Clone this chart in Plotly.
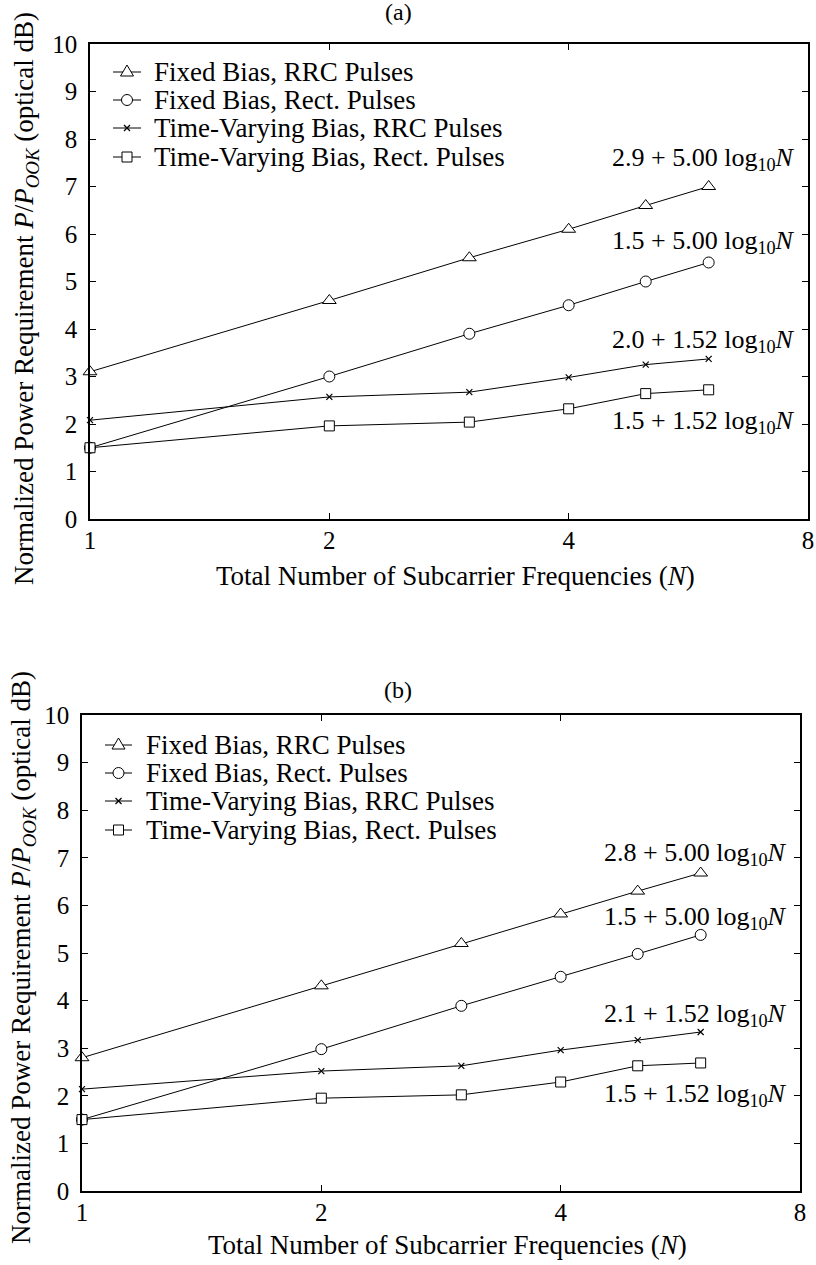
import math
import plotly.graph_objects as go

# ---------------- data ----------------
N = [1, 2, 3, 4, 5, 6]

series_names = [
    "Fixed Bias, RRC Pulses",
    "Fixed Bias, Rect. Pulses",
    "Time-Varying Bias, RRC Pulses",
    "Time-Varying Bias, Rect. Pulses",
]

a_fixed_rrc = [3.1, 4.6, 5.5, 6.1, 6.6, 7.0]
a_fixed_rect = [1.5, 3.0, 3.9, 4.5, 5.0, 5.4]
a_tv_rrc = [2.08, 2.57, 2.67, 2.98, 3.25, 3.37]
a_tv_rect = [1.5, 1.96, 2.04, 2.32, 2.64, 2.72]

b_fixed_rrc = [2.8, 4.31, 5.2, 5.82, 6.3, 6.68]
b_fixed_rect = [1.5, 2.98, 3.89, 4.5, 4.98, 5.38]
b_tv_rrc = [2.14, 2.52, 2.63, 2.96, 3.17, 3.34]
b_tv_rect = [1.5, 1.95, 2.02, 2.29, 2.63, 2.69]

a_fit_labels = ["2.9 + 5.00", "1.5 + 5.00", "2.0 + 1.52", "1.5 + 1.52"]
b_fit_labels = ["2.8 + 5.00", "1.5 + 5.00", "2.1 + 1.52", "1.5 + 1.52"]

x_ticks = [1, 2, 4, 8]
y_ticks = list(range(0, 11))

FONT = "Liberation Serif, Times New Roman, serif"
W, H = 816, 1265


def px(x):
    return x / W


def py(y):
    return 1 - y / H


# ---------------- figure ----------------
fig = go.Figure()

marker_styles = [
    dict(symbol="triangle-up", size=12, color="white", line=dict(color="black", width=1)),
    dict(symbol="circle", size=11, color="white", line=dict(color="black", width=1)),
    dict(symbol="x-thin", size=6, color="black", line=dict(color="black", width=1.2)),
    dict(symbol="square", size=10, color="white", line=dict(color="black", width=1)),
]

panels = [
    ("x", "y", [a_fixed_rrc, a_fixed_rect, a_tv_rrc, a_tv_rect]),
    ("x2", "y2", [b_fixed_rrc, b_fixed_rect, b_tv_rrc, b_tv_rect]),
]

for xa, ya, data in panels:
    for name, vals, ms in zip(series_names, data, marker_styles):
        fig.add_trace(go.Scatter(
            x=N, y=vals, name=name, mode="lines+markers",
            line=dict(color="black", width=1),
            marker=ms, xaxis=xa, yaxis=ya, showlegend=False, cliponaxis=False,
        ))

axis_common = dict(
    showline=True, linecolor="black", linewidth=1.5, mirror="ticks",
    ticks="inside", ticklen=6, tickwidth=1, tickcolor="black",
    showgrid=False, zeroline=False, automargin=False,
    tickfont=dict(family=FONT, size=25, color="black"),
)

fig.update_layout(
    template="none",
    width=W, height=H,
    margin=dict(l=0, r=0, t=0, b=0, autoexpand=False),
    paper_bgcolor="white", plot_bgcolor="white",
    font=dict(family=FONT, color="black"),
    xaxis=dict(type="log", range=[0, math.log10(8)], tickvals=x_ticks, ticktext=[str(t) for t in x_ticks],
               domain=[px(90), px(808)], anchor="y", ticklabelstandoff=-2, **axis_common),
    yaxis=dict(range=[0, 10], tickvals=y_ticks, domain=[py(519), py(44)], anchor="x",
               ticklabelstandoff=6, **axis_common),
    xaxis2=dict(type="log", range=[0, math.log10(8)], tickvals=x_ticks, ticktext=[str(t) for t in x_ticks],
                domain=[px(82), px(800)], anchor="y2", ticklabelstandoff=-2, **axis_common),
    yaxis2=dict(range=[0, 10], tickvals=y_ticks, domain=[py(1191), py(715)], anchor="x2",
                ticklabelstandoff=6, **axis_common),
    showlegend=False,
)

ann = []
shapes = []


def txt(text, x, y, size, xanchor="center", yanchor="middle", angle=0):
    ann.append(dict(text=text, x=px(x), y=py(y), xref="paper", yref="paper",
                    xanchor=xanchor, yanchor=yanchor, textangle=angle,
                    showarrow=False, font=dict(family=FONT, size=size, color="black")))


# panel titles
txt("(a)", 398, 12, 24)
txt("(b)", 398, 690, 24)

ytitle = "Normalized Power Requirement <i>P</i>/<i>P</i><sub><i>OOK</i></sub> (optical dB)"
xtitle = "Total Number of Subcarrier Frequencies (<i>N</i>)"
txt(ytitle, 26, 299, 27, angle=-90)
txt(ytitle, 23, 958, 27, angle=-90)
txt(xtitle, 455, 576, 27)
txt(xtitle, 447, 1245, 27)

# fit labels (placed in data coordinates of each panel)
a_label_y = [7.58, 5.83, 3.75, 2.04]
b_label_y = [7.08, 5.74, 3.70, 2.02]
for labels, ys, xr, yr in [(a_fit_labels, a_label_y, "x", "y"), (b_fit_labels, b_label_y, "x2", "y2")]:
    for lab, yv in zip(labels, ys):
        ann.append(dict(text=lab + " log<sub>10</sub><i>N</i>", x=math.log10(7.75), y=yv,
                        xref=xr, yref=yr, xanchor="right", yanchor="middle",
                        showarrow=False, font=dict(family=FONT, size=26, color="black")))


# manual legends (sample line + marker + text)
def legend_sample(kind, cx, cy, x0, x1):
    shapes.append(dict(type="line", xref="paper", yref="paper", x0=px(x0), x1=px(x1),
                       y0=py(cy), y1=py(cy), line=dict(color="black", width=1)))
    if kind == 0:
        path = "M {a},{b} L {c},{b} L {d},{e} Z".format(
            a=px(cx - 6.5), b=py(cy + 4), c=px(cx + 6.5), d=px(cx), e=py(cy - 7))
        shapes.append(dict(type="path", xref="paper", yref="paper", path=path,
                           fillcolor="white", line=dict(color="black", width=1)))
    elif kind == 1:
        shapes.append(dict(type="circle", xref="paper", yref="paper",
                           x0=px(cx - 5.5), x1=px(cx + 5.5), y0=py(cy + 5.5), y1=py(cy - 5.5),
                           fillcolor="white", line=dict(color="black", width=1)))
    elif kind == 2:
        for s in (1, -1):
            shapes.append(dict(type="line", xref="paper", yref="paper",
                               x0=px(cx - 3), x1=px(cx + 3), y0=py(cy - 3 * s), y1=py(cy + 3 * s),
                               line=dict(color="black", width=1.2)))
    else:
        shapes.append(dict(type="rect", xref="paper", yref="paper",
                           x0=px(cx - 5), x1=px(cx + 5), y0=py(cy + 5), y1=py(cy - 5),
                           fillcolor="white", line=dict(color="black", width=1)))


for (lx0, lx1, tx, rows) in [(113, 141, 152, [72, 100, 128, 157]),
                             (105, 132, 144, [745, 773, 801, 830])]:
    for k, (name, ry) in enumerate(zip(series_names, rows)):
        legend_sample(k, (lx0 + lx1) / 2, ry, lx0, lx1)
        txt(name, tx, ry, 27, xanchor="left")

fig.update_layout(annotations=ann, shapes=shapes)

fig.write_html("out.html")
